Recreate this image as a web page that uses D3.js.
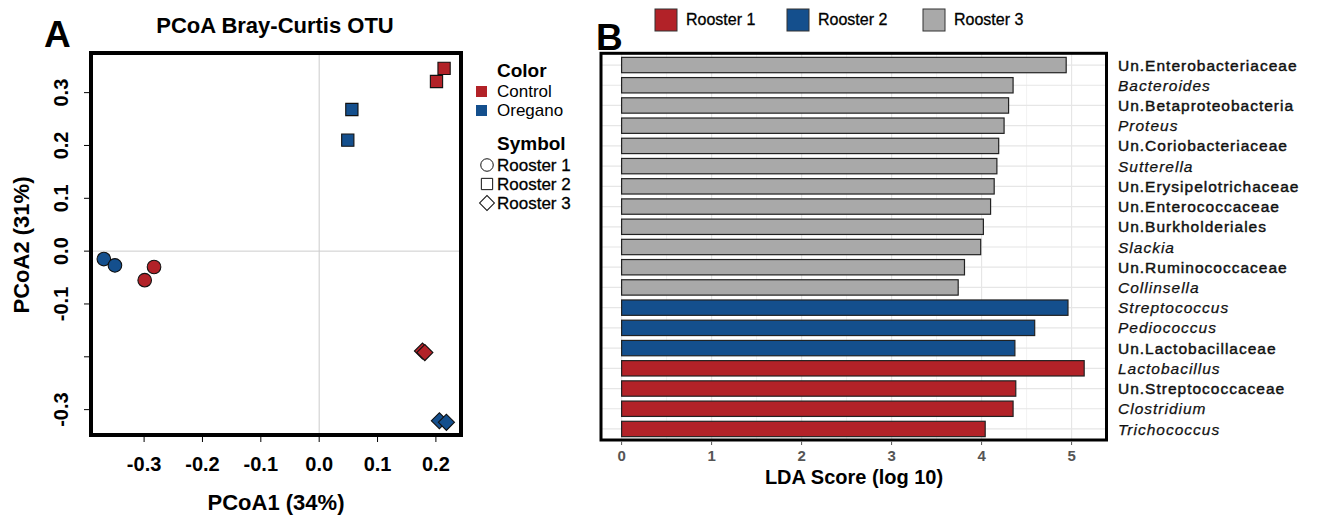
<!DOCTYPE html>
<html>
<head>
<meta charset="utf-8">
<script src="https://cdn.jsdelivr.net/npm/d3@7"></script>
<style>
  body { margin: 0; background: #fff; }
  svg { font-family: "Liberation Sans", Arial, sans-serif; }
</style>
</head>
<body>
<svg id="chart" width="1320" height="515"></svg>
<script>
// panel A data
const pcoaTreatment = ['Control', 'Control', 'Oregano', 'Oregano', 'Control', 'Control', 'Oregano', 'Oregano', 'Control', 'Control', 'Oregano', 'Oregano']
const pcoaRooster = ['Rooster 1', 'Rooster 1', 'Rooster 1', 'Rooster 1', 'Rooster 2', 'Rooster 2', 'Rooster 2', 'Rooster 2', 'Rooster 3', 'Rooster 3', 'Rooster 3', 'Rooster 3']
const pcoa1 = [-0.299, -0.283, -0.369, -0.350, 0.201, 0.214, 0.056, 0.049, 0.177, 0.181, 0.206, 0.218]
const pcoa2 = [-0.055, -0.030, -0.015, -0.027, 0.321, 0.346, 0.268, 0.210, -0.189, -0.192, -0.321, -0.324]
const pcoaXTicks = [-0.3, -0.2, -0.1, 0.0, 0.1, 0.2]
const pcoaXLabels = ['-0.3', '-0.2', '-0.1', '0.0', '0.1', '0.2']
const pcoaYTicks = [0.3, 0.2, 0.1, 0.0, -0.1, -0.2, -0.3]
const pcoaYLabels = ['0.3', '0.2', '0.1', '0.0', '-0.1', '', '-0.3']

// panel B data
const taxa = ['Un.Enterobacteriaceae', 'Bacteroides', 'Un.Betaproteobacteria', 'Proteus', 'Un.Coriobacteriaceae',
    'Sutterella', 'Un.Erysipelotrichaceae', 'Un.Enterococcaceae', 'Un.Burkholderiales', 'Slackia',
    'Un.Ruminococcaceae', 'Collinsella', 'Streptococcus', 'Pediococcus', 'Un.Lactobacillaceae',
    'Lactobacillus', 'Un.Streptococcaceae', 'Clostridium', 'Trichococcus']
const ldaScore = [4.94, 4.35, 4.30, 4.25, 4.19, 4.17, 4.14, 4.10, 4.02, 3.99,
    3.81, 3.74, 4.96, 4.59, 4.37, 5.14, 4.38, 4.35, 4.04]
const ldaGroup = ['Rooster 3', 'Rooster 3', 'Rooster 3', 'Rooster 3', 'Rooster 3', 'Rooster 3', 'Rooster 3',
    'Rooster 3', 'Rooster 3', 'Rooster 3', 'Rooster 3', 'Rooster 3', 'Rooster 2', 'Rooster 2', 'Rooster 2',
    'Rooster 1', 'Rooster 1', 'Rooster 1', 'Rooster 1']
const ldaTicks = [0, 1, 2, 3, 4, 5]
const roosters = ['Rooster 1', 'Rooster 2', 'Rooster 3']

const red = '#b22228'
const blue = '#144f8d'
const grey = '#a9a9a9'

const svg = d3.select('#chart')

//panel A
const xA = d3.scaleLinear().domain([-0.391, 0.243]).range([91, 461])
const yA = d3.scaleLinear().domain([-0.348, 0.375]).range([435, 53])
const treatColor = d3.scaleOrdinal().domain(['Control', 'Oregano']).range([red, blue])
const shape = d3.scaleOrdinal().domain(roosters)
    .range([d3.symbolCircle, d3.symbolSquare, d3.symbolSquare])
const shapeSize = d3.scaleOrdinal().domain(roosters).range([145, 150, 130])
const shapeRot = d3.scaleOrdinal().domain(roosters).range([0, 0, 45])

const a = svg.append('g')

a.append('line')
    .attr('x1', xA(0)).attr('x2', xA(0))
    .attr('y1', yA.range()[1]).attr('y2', yA.range()[0])
    .attr('stroke', '#cccccc').attr('stroke-width', 1)
a.append('line')
    .attr('x1', xA.range()[0]).attr('x2', xA.range()[1])
    .attr('y1', yA(0)).attr('y2', yA(0))
    .attr('stroke', '#cccccc').attr('stroke-width', 1)

a.append('g')
    .selectAll('path')
    .data(pcoa1.map((d, i) => i))
    .enter()
    .append('path')
    .attr('d', (i) => d3.symbol().type(shape(pcoaRooster[i])).size(shapeSize(pcoaRooster[i]))())
    .attr('transform', (i) => `translate(${xA(pcoa1[i])},${yA(pcoa2[i])}) rotate(${shapeRot(pcoaRooster[i])})`)
    .attr('fill', (i) => treatColor(pcoaTreatment[i]))
    .attr('stroke', '#111')
    .attr('stroke-width', 1.1)

a.append('rect')
    .attr('x', xA.range()[0]).attr('y', yA.range()[1])
    .attr('width', xA.range()[1] - xA.range()[0])
    .attr('height', yA.range()[0] - yA.range()[1])
    .attr('fill', 'none').attr('stroke', '#000').attr('stroke-width', 4)

// x axis
const xAxisA = a.append('g').attr('transform', 'translate(0,437)')
xAxisA.selectAll('line')
    .data(pcoaXTicks).enter().append('line')
    .attr('x1', (d) => xA(d)).attr('x2', (d) => xA(d))
    .attr('y1', 0).attr('y2', 5)
    .attr('stroke', '#000').attr('stroke-width', 1)
xAxisA.selectAll('text')
    .data(pcoaXTicks).enter().append('text')
    .attr('x', (d) => xA(d)).attr('y', 34)
    .attr('text-anchor', 'middle')
    .attr('font-size', 20).attr('font-weight', 'bold')
    .text((d, i) => pcoaXLabels[i])

// y axis
const yAxisA = a.append('g')
yAxisA.selectAll('line')
    .data(pcoaYTicks).enter().append('line')
    .attr('x1', 84).attr('x2', 89)
    .attr('y1', (d) => yA(d)).attr('y2', (d) => yA(d))
    .attr('stroke', '#000').attr('stroke-width', 1)
yAxisA.selectAll('text')
    .data(pcoaYTicks).enter().append('text')
    .attr('transform', (d) => `translate(68,${yA(d)}) rotate(-90)`)
    .attr('text-anchor', 'middle')
    .attr('font-size', 20).attr('font-weight', 'bold')
    .text((d, i) => pcoaYLabels[i])

a.append('text')
    .attr('transform', 'translate(29,245) rotate(-90)')
    .attr('text-anchor', 'middle')
    .attr('font-size', 22).attr('font-weight', 'bold')
    .text('PCoA2 (31%)')
a.append('text')
    .attr('x', 276).attr('y', 510)
    .attr('text-anchor', 'middle')
    .attr('font-size', 22).attr('font-weight', 'bold')
    .text('PCoA1 (34%)')
a.append('text')
    .attr('x', 275).attr('y', 33)
    .attr('text-anchor', 'middle')
    .attr('font-size', 22).attr('font-weight', 'bold')
    .text('PCoA Bray-Curtis OTU')
a.append('text')
    .attr('x', 44).attr('y', 47)
    .attr('font-size', 37).attr('font-weight', 'bold')
    .text('A')

// legend A
const legA = a.append('g')
legA.append('text').attr('x', 497).attr('y', 77)
    .attr('font-size', 19).attr('font-weight', 'bold').text('Color')
legA.selectAll('rect.sw')
    .data(treatColor.domain()).enter().append('rect')
    .attr('class', 'sw')
    .attr('x', 476).attr('y', (d, i) => 86 + i * 19)
    .attr('width', 11).attr('height', 11)
    .attr('fill', (d) => treatColor(d))
legA.selectAll('text.tr')
    .data(treatColor.domain()).enter().append('text')
    .attr('class', 'tr')
    .attr('x', 497).attr('y', (d, i) => 97 + i * 19)
    .attr('font-size', 17).text((d) => d)
legA.append('text').attr('x', 497).attr('y', 150)
    .attr('font-size', 19).attr('font-weight', 'bold').text('Symbol')
legA.selectAll('path')
    .data(roosters).enter().append('path')
    .attr('d', (d) => d3.symbol().type(shape(d)).size(shapeSize(d) * 0.85)())
    .attr('transform', (d, i) => `translate(487,${165 + i * 19}) rotate(${shapeRot(d)})`)
    .attr('fill', 'none').attr('stroke', '#111').attr('stroke-width', 1)
legA.selectAll('text.ro')
    .data(roosters).enter().append('text')
    .attr('class', 'ro')
    .attr('x', 497).attr('y', (d, i) => 171 + i * 19)
    .attr('font-size', 17).attr('stroke', '#000').attr('stroke-width', 0.3)
    .text((d) => d)

//panel B
const xB = d3.scaleLinear().domain([-0.229, 5.388]).range([601, 1106.5])
const yB = d3.scaleBand().domain(taxa).range([52.5, 441.5]).padding(0.24)
const groupColor = d3.scaleOrdinal().domain(roosters).range([red, blue, grey])
const boxTop = 53.3
const boxBottom = 440

const b = svg.append('g')

const minorTicks = d3.range(0, 5.5, 0.5)
b.append('g').selectAll('line')
    .data(minorTicks).enter().append('line')
    .attr('x1', (d) => xB(d)).attr('x2', (d) => xB(d))
    .attr('y1', boxTop).attr('y2', boxBottom)
    .attr('stroke', (d) => Number.isInteger(d) ? '#e6e6e6' : '#f2f2f2')
    .attr('stroke-width', (d) => Number.isInteger(d) ? 1.2 : 1)
b.append('g').selectAll('line')
    .data(taxa).enter().append('line')
    .attr('x1', xB.range()[0]).attr('x2', xB.range()[1])
    .attr('y1', (d) => yB(d) + yB.bandwidth() / 2)
    .attr('y2', (d) => yB(d) + yB.bandwidth() / 2)
    .attr('stroke', '#e6e6e6').attr('stroke-width', 1.2)

b.append('g').selectAll('rect')
    .data(taxa).enter().append('rect')
    .attr('x', xB(0))
    .attr('y', (d) => yB(d))
    .attr('width', (d, i) => xB(ldaScore[i]) - xB(0))
    .attr('height', yB.bandwidth())
    .attr('fill', (d, i) => groupColor(ldaGroup[i]))
    .attr('stroke', '#222').attr('stroke-width', 1.2)

b.append('rect')
    .attr('x', xB.range()[0]).attr('y', boxTop)
    .attr('width', xB.range()[1] - xB.range()[0])
    .attr('height', boxBottom - boxTop)
    .attr('fill', 'none').attr('stroke', '#000').attr('stroke-width', 3)

b.append('g').selectAll('text')
    .data(taxa).enter().append('text')
    .attr('x', 1118)
    .attr('y', (d) => yB(d) + yB.bandwidth() / 2)
    .attr('dy', '0.36em')
    .attr('font-size', 15.5)
    .attr('letter-spacing', 1)
    .attr('fill', '#111').attr('stroke', '#111')
    .attr('stroke-width', (d) => d.startsWith('Un.') ? 0.45 : 0.25)
    .attr('font-style', (d) => d.startsWith('Un.') ? 'normal' : 'italic')
    .text((d) => d)

const xAxisB = b.append('g')
xAxisB.selectAll('line')
    .data(ldaTicks).enter().append('line')
    .attr('x1', (d) => xB(d)).attr('x2', (d) => xB(d))
    .attr('y1', boxBottom + 1.5).attr('y2', boxBottom + 5)
    .attr('stroke', '#555')
xAxisB.selectAll('text')
    .data(ldaTicks).enter().append('text')
    .attr('x', (d) => xB(d)).attr('y', 461)
    .attr('text-anchor', 'middle')
    .attr('font-size', 15).attr('font-weight', 'bold').attr('fill', '#555')
    .text((d) => d)
b.append('text')
    .attr('x', 854).attr('y', 484)
    .attr('text-anchor', 'middle')
    .attr('font-size', 20).attr('font-weight', 'bold')
    .text('LDA Score (log 10)')
b.append('text')
    .attr('x', 596).attr('y', 50)
    .attr('font-size', 37).attr('font-weight', 'bold')
    .text('B')

// legend B
const legX = [655, 787, 923]
const legB = b.append('g')
legB.selectAll('rect')
    .data(roosters).enter().append('rect')
    .attr('x', (d, i) => legX[i]).attr('y', 9)
    .attr('width', 22).attr('height', 22)
    .attr('fill', (d) => groupColor(d))
    .attr('stroke', '#333').attr('stroke-width', 1)
legB.selectAll('text')
    .data(roosters).enter().append('text')
    .attr('x', (d, i) => legX[i] + 31).attr('y', 25)
    .attr('font-size', 16).attr('stroke', '#000').attr('stroke-width', 0.3)
    .text((d) => d)
</script>
</body>
</html>
